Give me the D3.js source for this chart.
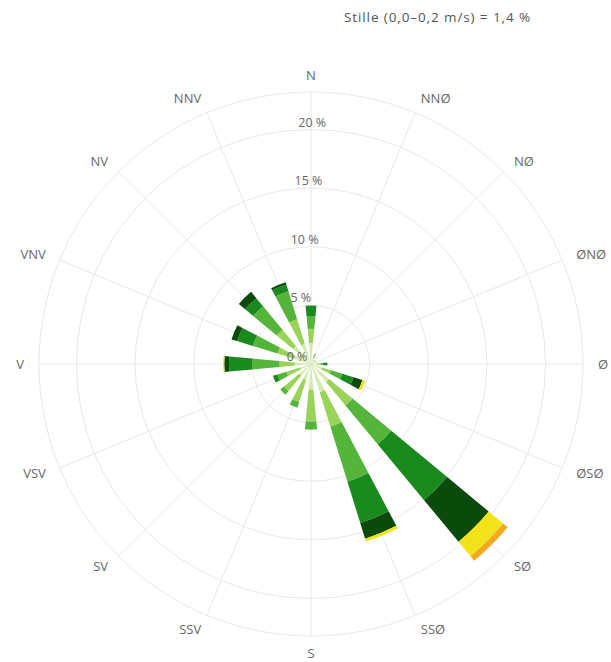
<!DOCTYPE html>
<html>
<head>
<meta charset="utf-8">
<script src="https://cdn.jsdelivr.net/npm/d3@7"></script>
<style>
  body { margin: 0; background: #fff; }
  svg { display: block; font-family: "Open Sans", "DejaVu Sans", sans-serif; }
</style>
</head>
<body>
<div id="chart"></div>
<script>
const directions = ['N', 'NNØ', 'NØ', 'ØNØ', 'Ø', 'ØSØ', 'SØ', 'SSØ', 'S', 'SSV', 'SV', 'VSV', 'V', 'VNV', 'NV', 'NNV'];

// percent per speed class, one value per direction (N .. NNV)
const class1 = [1.8, 0.5, 0.4, 0.4, 0.5, 1.0, 2.0, 2.5, 2.2, 1.4, 1.3, 1.0, 1.4, 1.5, 2.0, 1.8];
const class2 = [1.2, 0.3, 0.1, 0.1, 0.3, 0.8, 2.6, 3.1, 2.7, 2.0, 1.7, 1.2, 1.3, 1.5, 1.8, 2.2];
const class3 = [1.1, 0.1, 0, 0, 0.2, 1.0, 4.3, 4.9, 0.7, 0.5, 0.4, 0.8, 2.3, 2.2, 2.6, 2.5];
const class4 = [0.9, 0, 0, 0, 0.4, 1.0, 6.2, 3.7, 0, 0, 0, 0.4, 2.0, 1.4, 0.9, 0.6];
const class5 = [0, 0, 0, 0, 0, 0.8, 4.6, 1.4, 0, 0, 0, 0, 0.4, 0.5, 0.7, 0.2];
const class6 = [0, 0, 0, 0, 0, 0.25, 1.6, 0.25, 0, 0, 0, 0, 0.1, 0, 0, 0];
const class7 = [0, 0, 0, 0, 0, 0, 0.5, 0, 0, 0, 0, 0, 0, 0, 0, 0];

const classColors = ['#d3ebaa', '#99d35a', '#55b43a', '#1a8a1e', '#0a4a0a', '#f2e21a', '#f4a81d'];

const gridTicks = [0, 5, 10, 15, 20];
const axisMax = 23.2;
const calmText = 'Stille (0,0\u20130,2 m/s) = 1,4 %';

const width = 611;
const height = 662;
const cx = 311;
const cy = 364;
const outerR = 272;

const svg = d3.select('#chart').append('svg')
  .attr('width', width)
  .attr('height', height);

const r = d3.scaleLinear().domain([0, axisMax]).range([0, outerR]);
const angle = d3.scaleBand().domain(directions).range([0, 2 * Math.PI]).align(0);
const dirAngle = d => angle(d);
const halfWidth = 5.3 * Math.PI / 180;

const g = svg.append('g').attr('transform', `translate(${cx},${cy})`);

// grid
const grid = g.append('g');
grid.selectAll('.ring').data(gridTicks.filter(t => t > 0).concat([axisMax]))
  .enter().append('circle')
  .attr('r', d => r(d))
  .attr('fill', 'none')
  .attr('stroke', '#e8e8e8')
  .attr('stroke-width', 1);

grid.selectAll('.spoke').data(directions)
  .enter().append('line')
  .attr('x1', 0).attr('y1', 0)
  .attr('x2', d => outerR * Math.sin(dirAngle(d)))
  .attr('y2', d => -outerR * Math.cos(dirAngle(d)))
  .attr('stroke', '#e8e8e8')
  .attr('stroke-width', 1);

// stacked bars
const classes = [class1, class2, class3, class4, class5, class6, class7];
const segments = [];
directions.forEach((dir, i) => {
  let base = 0;
  classes.forEach((vals, k) => {
    const v = vals[i];
    if (v > 0) {
      segments.push({ dir: dir, k: k, y0: base, y1: base + v });
    }
    base += v;
  });
});

const arc = d3.arc()
  .innerRadius(d => r(d.y0))
  .outerRadius(d => r(d.y1))
  .startAngle(d => dirAngle(d.dir) - halfWidth)
  .endAngle(d => dirAngle(d.dir) + halfWidth);

g.append('g').selectAll('path').data(segments)
  .enter().append('path')
  .attr('d', arc)
  .attr('fill', d => classColors[d.k]);

// y axis labels
g.append('g').selectAll('text').data(gridTicks)
  .enter().append('text')
  .attr('x', d => -14 + 0.065 * r(d))
  .attr('y', d => -r(d) - 3)
  .attr('text-anchor', 'middle')
  .attr('font-size', 12.5)
  .attr('fill', '#666')
  .text(d => d + ' %');

// direction labels, anchored like the polar axis: 15px outside the edge
const labelPos = d => {
  const a = dirAngle(d);
  const s = Math.sin(a);
  const c = Math.cos(a);
  const lr = Math.abs(s) < 0.01 ? outerR + 17 : outerR + 15;
  return { x: lr * s, y: -lr * c, anchor: Math.abs(s) < 0.01 ? 'middle' : (s > 0 ? 'start' : 'end') };
};

g.append('g').selectAll('text').data(directions)
  .enter().append('text')
  .attr('x', d => labelPos(d).x)
  .attr('y', d => labelPos(d).y)
  .attr('dy', '0.35em')
  .attr('text-anchor', d => labelPos(d).anchor)
  .attr('font-size', 13)
  .attr('fill', '#666')
  .text(d => d);

svg.append('text')
  .attr('x', 531)
  .attr('y', 22)
  .attr('text-anchor', 'end')
  .attr('font-size', 13.5)
  .attr('letter-spacing', 0.9)
  .attr('fill', '#555')
  .text(calmText);
</script>
</body>
</html>
